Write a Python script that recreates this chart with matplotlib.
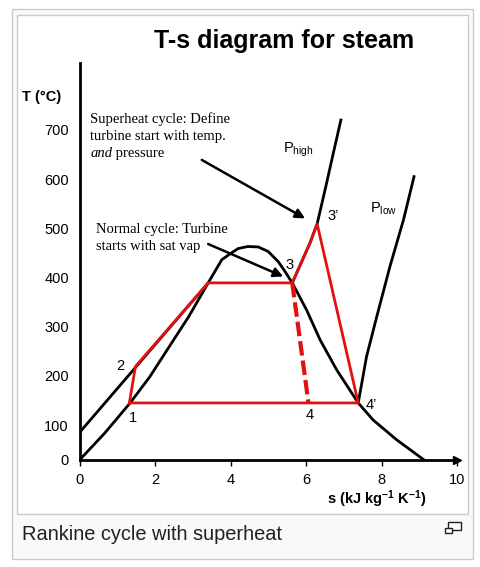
import matplotlib
matplotlib.use("Agg")
import matplotlib.pyplot as plt
from matplotlib.patches import Rectangle

plt.rcParams['font.family'] = ['Liberation Sans', 'DejaVu Sans']
plt.rcParams['mathtext.fontset'] = 'custom'
plt.rcParams['mathtext.rm'] = 'Liberation Sans'
plt.rcParams['mathtext.it'] = 'Liberation Sans:italic'
plt.rcParams['mathtext.bf'] = 'Liberation Sans:bold'
plt.rcParams['lines.solid_joinstyle'] = 'round'

# --- data (entropy s in kJ/kg/K, temperature T in degC) ---
s_liq_high = [0.0, 3.40]
T_liq_high = [86, 389]

s_dome = [0.0, 0.66, 1.33, 1.85, 2.33, 2.88, 3.40, 3.76, 3.98, 4.20, 4.46, 4.73,
          4.99, 5.26, 5.44, 5.63, 6.01, 6.37, 6.81, 7.38, 7.78, 8.40, 9.11]
T_dome = [30, 84, 145, 198, 255, 320, 389, 436, 448, 459, 463, 462,
          453, 432, 412, 389, 334, 273, 212, 145, 110, 70, 30]

s_p_high = [5.63, 5.88, 6.10, 6.29, 6.50, 6.72, 6.92]
T_p_high = [389, 432, 470, 509, 578, 653, 720]

s_p_low = [7.38, 7.60, 7.87, 8.22, 8.58, 8.86]
T_p_low = [145, 239, 320, 422, 517, 605]

s_cycle = [1.31, 1.47, 3.40, 5.63, 5.88, 6.10, 6.29, 7.38, 1.31]
T_cycle = [145, 219, 389, 389, 432, 470, 509, 145, 145]

s_normal = [5.63, 6.06]
T_normal = [389, 145]

T_ticks = [30, 100, 200, 300, 400, 500, 600, 700]
T_tick_labels = ['0', '100', '200', '300', '400', '500', '600', '700']
s_ticks = [0, 2, 4, 6, 8, 10]

W, H = 480, 567


def fx(x):
    return x / W


def fy(y):
    return 1 - y / H


fig = plt.figure(figsize=(W / 100, H / 100), dpi=100)

# wiki style frame, kept behind the axes
fig.add_artist(Rectangle((fx(12), fy(559)), (473 - 12) / W, (559 - 9) / H, zorder=-2,
                         transform=fig.transFigure, fc='#f8f9fa', ec='#c8ccd1', lw=1))
fig.add_artist(Rectangle((fx(17), fy(514)), (468 - 17) / W, (514 - 15) / H, zorder=-1,
                         transform=fig.transFigure, fc='white', ec='#c8ccd1', lw=1))
fig.add_artist(Rectangle((fx(448), fy(530)), 12.5 / W, 8.5 / H, zorder=-1,
                         transform=fig.transFigure, fc='white', ec='#202122', lw=1))
fig.add_artist(Rectangle((fx(445), fy(533)), 6.5 / W, 5.5 / H, zorder=-1,
                         transform=fig.transFigure, fc='white', ec='#202122', lw=1))

ax = fig.add_axes([fx(80), fy(459.5), 377 / W, (459.5 - 63) / H])
ax.set_facecolor('none')
ax.set_xlim(0, 10)
ax.set_ylim(30, 836)

for side in ['top', 'right']:
    ax.spines[side].set_visible(False)
for side in ['left', 'bottom']:
    ax.spines[side].set_linewidth(2)
ax.plot([1], [0], marker='>', color='k', ms=6, transform=ax.transAxes, clip_on=False)

ax.set_xticks(s_ticks)
ax.set_yticks(T_ticks)
ax.set_yticklabels(T_tick_labels)
ax.tick_params(axis='x', direction='out', length=4, width=1, pad=6, labelsize=10.5)
ax.tick_params(axis='y', length=0, pad=8, labelsize=10.5)

# black property lines
ax.plot(s_liq_high, T_liq_high, color='k', lw=2)
ax.plot(s_dome, T_dome, color='k', lw=2)
ax.plot(s_p_high, T_p_high, color='k', lw=2)
ax.plot(s_p_low, T_p_low, color='k', lw=2)

# cycles
ax.plot(s_cycle, T_cycle, color='#e41010', lw=2, zorder=3)
ax.plot(s_normal, T_normal, color='#e41010', lw=3, ls=(0, (3.5, 1.2)), zorder=3)

lab = dict(fontsize=10.5, ha='center', va='center')
ax.text(1.41, 114, '1', **lab)
ax.text(1.06, 220, '2', **lab)
ax.text(5.55, 425, '3', **lab)
ax.text(6.72, 525, '3\u2019', **lab)
ax.text(6.10, 120, '4', **lab)
ax.text(7.72, 141, '4\u2019', **lab)

ax.text(5.38, 653, r'P$_{\mathrm{high}}$', fontsize=10.5, va='baseline')
ax.text(7.69, 532, r'P$_{\mathrm{low}}$', fontsize=10.5, va='baseline')

serif = dict(family=['Liberation Serif', 'DejaVu Serif'], fontsize=10.5, va='baseline')
ax.text(0.27, 715, 'Superheat cycle: Define', **serif)
ax.text(0.27, 680, 'turbine start with temp.', **serif)
t_and = ax.text(0.27, 645, 'and', style='italic', **serif)
ax.annotate(' pressure', xy=(1, 0), xycoords=t_and, va='bottom',
            family=['Liberation Serif', 'DejaVu Serif'], fontsize=10.5)
ax.text(0.42, 490, 'Normal cycle: Turbine', **serif)
ax.text(0.42, 456, 'starts with sat vap', **serif)

arrow = dict(arrowstyle='-|>', color='k', lw=1.8, mutation_scale=14, shrinkA=0, shrinkB=0)
ax.annotate('', xy=(5.97, 520), xytext=(3.23, 639), arrowprops=arrow)
ax.annotate('', xy=(5.39, 402), xytext=(3.40, 468), arrowprops=arrow)

fig.text(fx(284), fy(41), 'T-s diagram for steam', ha='center', va='center',
         fontsize=18, weight='bold')
fig.text(fx(22), fy(97), 'T (\u00b0C)', ha='left', va='center', fontsize=10.5, weight='bold')
fig.text(fx(427), fy(499), r's (kJ kg$^{\mathbf{-1}}$ K$^{\mathbf{-1}}$)', ha='right',
         va='center', fontsize=10.5, weight='bold')
fig.text(fx(22), fy(535), 'Rankine cycle with superheat', ha='left', va='center',
         fontsize=14.4, color='#202122')

fig.savefig('out.png', dpi=100)
